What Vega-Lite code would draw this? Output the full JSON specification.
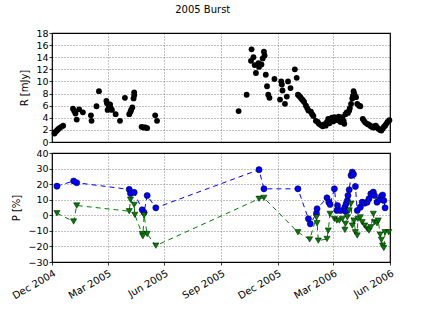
{
  "$schema": "https://vega.github.io/schema/vega-lite/v6.json",
  "padding": {"left": 9, "top": 5, "right": 5, "bottom": 5},
  "bounds": "flush",
  "title": {"text": "2005 Burst", "fontSize": 10, "font": "DejaVu Sans", "fontWeight": "normal", "offset": 12, "anchor": "middle"},
  "config": {
    "font": "DejaVu Sans",
    "view": {"stroke": "#000000", "strokeWidth": 1.2},
    "axis": {
      "domain": false, "ticks": true, "tickSize": 3, "tickColor": "#000", "tickWidth": 0.8, "labelFontSize": 9.5, "labelColor": "#000", "labelPadding": 1,
      "titleFontSize": 10, "titleFontWeight": "normal", "titleColor": "#000",
      "gridColor": "#000", "gridDash": [1, 2], "gridWidth": 0.6, "gridOpacity": 0.8
    }
  },
  "spacing": 11,
  "datasets": {
    "R": [
      {"t":"2004-12-05","r":1.4},{"t":"2004-12-07","r":1.7},{"t":"2004-12-09","r":1.9},{"t":"2004-12-11","r":2.1},{"t":"2004-12-13","r":2.3},{"t":"2004-12-16","r":2.5},{"t":"2004-12-19","r":2.7},
      {"t":"2005-01-04","r":5.5},{"t":"2005-01-06","r":5.1},{"t":"2005-01-08","r":4.7},{"t":"2005-01-10","r":3.7},{"t":"2005-01-14","r":5.4},{"t":"2005-01-20","r":4.9},
      {"t":"2005-02-02","r":4.4},{"t":"2005-02-03","r":3.5},{"t":"2005-02-11","r":5.9},{"t":"2005-02-15","r":8.4},{"t":"2005-02-27","r":6.8},{"t":"2005-02-28","r":6.4},
      {"t":"2005-03-01","r":5.3},{"t":"2005-03-03","r":5.9},{"t":"2005-03-05","r":6.2},{"t":"2005-03-06","r":5.6},{"t":"2005-03-08","r":5.3},{"t":"2005-03-14","r":4.6},{"t":"2005-03-21","r":3.5},{"t":"2005-03-29","r":7.3},
      {"t":"2005-04-05","r":4.6},{"t":"2005-04-07","r":5.0},{"t":"2005-04-08","r":5.3},{"t":"2005-04-10","r":5.7},{"t":"2005-04-12","r":7.2},{"t":"2005-04-13","r":7.7},{"t":"2005-04-13","r":8.2},
      {"t":"2005-04-25","r":2.5},{"t":"2005-04-28","r":2.4},{"t":"2005-05-01","r":2.4},{"t":"2005-05-04","r":2.3},{"t":"2005-05-17","r":4.4},{"t":"2005-05-20","r":3.5},
      {"t":"2005-09-29","r":5.1},{"t":"2005-10-12","r":7.8},{"t":"2005-10-19","r":13.4},{"t":"2005-10-20","r":15.3},{"t":"2005-10-23","r":14.0},{"t":"2005-10-25","r":12.7},{"t":"2005-10-27","r":11.4},{"t":"2005-10-31","r":13.0},
      {"t":"2005-11-01","r":12.4},{"t":"2005-11-05","r":12.8},{"t":"2005-11-07","r":13.8},{"t":"2005-11-09","r":14.9},{"t":"2005-11-10","r":14.3},{"t":"2005-11-12","r":11.1},{"t":"2005-11-14","r":9.2},{"t":"2005-11-16","r":7.8},{"t":"2005-11-18","r":7.3},{"t":"2005-11-26","r":10.4},
      {"t":"2005-12-05","r":7.0},{"t":"2005-12-07","r":10.0},{"t":"2005-12-08","r":9.5},{"t":"2005-12-09","r":8.5},{"t":"2005-12-13","r":6.3},{"t":"2005-12-16","r":7.5},{"t":"2005-12-18","r":10.0},{"t":"2005-12-22","r":8.9},{"t":"2005-12-29","r":12.0},
      {"t":"2006-01-01","r":10.6},{"t":"2006-01-03","r":7.8},{"t":"2006-01-05","r":7.6},{"t":"2006-01-07","r":7.4},{"t":"2006-01-09","r":7.1},{"t":"2006-01-11","r":6.9},{"t":"2006-01-13","r":6.6},{"t":"2006-01-16","r":6.0},{"t":"2006-01-18","r":5.6},{"t":"2006-01-20","r":5.2},{"t":"2006-01-24","r":5.0},{"t":"2006-01-26","r":4.6},{"t":"2006-01-28","r":4.3},
      {"t":"2006-02-01","r":3.5},{"t":"2006-02-04","r":3.3},{"t":"2006-02-06","r":3.0},{"t":"2006-02-09","r":2.8},{"t":"2006-02-12","r":2.6},{"t":"2006-02-14","r":2.9},{"t":"2006-02-17","r":2.7},{"t":"2006-02-19","r":3.3},{"t":"2006-02-21","r":3.8},{"t":"2006-02-23","r":3.1},{"t":"2006-02-25","r":3.5},{"t":"2006-02-27","r":4.0},
      {"t":"2006-03-01","r":3.4},{"t":"2006-03-03","r":4.1},{"t":"2006-03-05","r":3.6},{"t":"2006-03-08","r":3.8},{"t":"2006-03-10","r":4.2},{"t":"2006-03-11","r":3.5},{"t":"2006-03-13","r":3.3},{"t":"2006-03-14","r":3.9},{"t":"2006-03-16","r":4.1},{"t":"2006-03-18","r":3.5},{"t":"2006-03-19","r":3.0},{"t":"2006-03-21","r":4.6},{"t":"2006-03-23","r":4.9},{"t":"2006-03-25","r":4.8},{"t":"2006-03-27","r":5.2},{"t":"2006-03-28","r":5.6},{"t":"2006-03-30","r":6.3},
      {"t":"2006-04-01","r":7.2},{"t":"2006-04-02","r":7.6},{"t":"2006-04-03","r":8.4},{"t":"2006-04-04","r":8.0},{"t":"2006-04-05","r":7.7},{"t":"2006-04-07","r":7.4},{"t":"2006-04-09","r":6.3},{"t":"2006-04-12","r":6.0},{"t":"2006-04-14","r":5.9},{"t":"2006-04-18","r":3.8},{"t":"2006-04-20","r":3.5},{"t":"2006-04-22","r":3.2},{"t":"2006-04-25","r":3.0},{"t":"2006-04-27","r":2.9},{"t":"2006-04-29","r":2.8},
      {"t":"2006-05-01","r":2.6},{"t":"2006-05-03","r":2.5},{"t":"2006-05-05","r":2.4},{"t":"2006-05-07","r":2.6},{"t":"2006-05-09","r":2.7},{"t":"2006-05-11","r":2.4},{"t":"2006-05-13","r":2.2},{"t":"2006-05-16","r":2.0},{"t":"2006-05-18","r":1.9},{"t":"2006-05-20","r":2.2},{"t":"2006-05-22","r":2.5},{"t":"2006-05-24","r":2.7},{"t":"2006-05-26","r":3.0},{"t":"2006-05-28","r":3.3},{"t":"2006-05-31","r":3.6}
    ],
    "P": [
      {"t":"2004-12-09","s":"a","p":18.7},{"t":"2005-01-05","s":"a","p":22.0},{"t":"2005-01-10","s":"a","p":20.9},{"t":"2005-04-05","s":"a","p":16.6},{"t":"2005-04-07","s":"a","p":14.0},{"t":"2005-04-13","s":"a","p":14.7},{"t":"2005-04-26","s":"a","p":3.5},{"t":"2005-04-29","s":"a","p":1.8},{"t":"2005-05-04","s":"a","p":12.7},{"t":"2005-05-18","s":"a","p":4.8},
      {"t":"2005-11-01","s":"a","p":29.3},{"t":"2005-11-09","s":"a","p":17.0},{"t":"2006-01-03","s":"a","p":17.0},{"t":"2006-01-20","s":"a","p":-2.3},{"t":"2006-01-23","s":"a","p":-5.5},{"t":"2006-02-02","s":"a","p":1.3},{"t":"2006-02-03","s":"a","p":4.2},{"t":"2006-02-19","s":"a","p":11.2},{"t":"2006-02-22","s":"a","p":8.4},{"t":"2006-02-24","s":"a","p":7.0},
      {"t":"2006-03-03","s":"a","p":17.0},{"t":"2006-03-07","s":"a","p":3.1},{"t":"2006-03-08","s":"a","p":6.3},{"t":"2006-03-13","s":"a","p":3.1},{"t":"2006-03-20","s":"a","p":5.2},{"t":"2006-03-21","s":"a","p":2.6},{"t":"2006-03-22","s":"a","p":7.4},{"t":"2006-03-24","s":"a","p":9.5},{"t":"2006-03-25","s":"a","p":12.7},{"t":"2006-03-27","s":"a","p":16.4},{"t":"2006-03-30","s":"a","p":25.6},
      {"t":"2006-04-01","s":"a","p":27.7},{"t":"2006-04-03","s":"a","p":26.3},{"t":"2006-04-06","s":"a","p":18.5},{"t":"2006-04-09","s":"a","p":3.1},{"t":"2006-04-14","s":"a","p":5.2},{"t":"2006-04-17","s":"a","p":8.4},{"t":"2006-04-21","s":"a","p":7.8},{"t":"2006-04-25","s":"a","p":8.4},{"t":"2006-04-28","s":"a","p":10.6},
      {"t":"2006-05-01","s":"a","p":13.8},{"t":"2006-05-05","s":"a","p":14.9},{"t":"2006-05-07","s":"a","p":12.7},{"t":"2006-05-11","s":"a","p":8.4},{"t":"2006-05-15","s":"a","p":10.0},{"t":"2006-05-18","s":"a","p":12.1},{"t":"2006-05-20","s":"a","p":13.0},{"t":"2006-05-22","s":"a","p":9.5},{"t":"2006-05-24","s":"a","p":4.8},
      {"t":"2004-12-09","s":"b","p":1.3},{"t":"2005-01-05","s":"b","p":-4.0},{"t":"2005-01-10","s":"b","p":6.3},{"t":"2005-04-05","s":"b","p":2.6},{"t":"2005-04-07","s":"b","p":10.0},{"t":"2005-04-13","s":"b","p":6.7},{"t":"2005-04-14","s":"b","p":0.3},{"t":"2005-04-26","s":"b","p":-12.0},{"t":"2005-04-27","s":"b","p":-13.5},{"t":"2005-04-29","s":"b","p":0.0},{"t":"2005-05-04","s":"b","p":-12.0},{"t":"2005-05-18","s":"b","p":-19.5},
      {"t":"2005-11-01","s":"b","p":10.6},{"t":"2005-11-09","s":"b","p":11.2},{"t":"2006-01-03","s":"b","p":-10.9},{"t":"2006-01-22","s":"b","p":-15.5},{"t":"2006-02-02","s":"b","p":-1.3},{"t":"2006-02-03","s":"b","p":-5.1},{"t":"2006-02-05","s":"b","p":-16.3},{"t":"2006-02-19","s":"b","p":-15.2},{"t":"2006-02-21","s":"b","p":-9.8},{"t":"2006-02-24","s":"b","p":0.9},
      {"t":"2006-03-03","s":"b","p":-2.3},{"t":"2006-03-07","s":"b","p":-3.4},{"t":"2006-03-11","s":"b","p":-3.4},{"t":"2006-03-16","s":"b","p":-2.3},{"t":"2006-03-20","s":"b","p":-9.4},{"t":"2006-03-21","s":"b","p":-5.5},{"t":"2006-03-24","s":"b","p":-1.3},{"t":"2006-03-27","s":"b","p":3.1},{"t":"2006-03-30","s":"b","p":7.4},
      {"t":"2006-04-01","s":"b","p":-6.6},{"t":"2006-04-04","s":"b","p":-3.4},{"t":"2006-04-06","s":"b","p":-10.9},{"t":"2006-04-09","s":"b","p":-13.0},{"t":"2006-04-10","s":"b","p":-2.3},{"t":"2006-04-14","s":"b","p":-1.3},{"t":"2006-04-17","s":"b","p":-4.5},{"t":"2006-04-21","s":"b","p":-6.6},{"t":"2006-04-25","s":"b","p":-8.7},{"t":"2006-04-28","s":"b","p":-9.8},
      {"t":"2006-05-01","s":"b","p":-7.7},{"t":"2006-05-05","s":"b","p":0.9},{"t":"2006-05-07","s":"b","p":-4.5},{"t":"2006-05-11","s":"b","p":-5.1},{"t":"2006-05-13","s":"b","p":-3.4},{"t":"2006-05-16","s":"b","p":-12.4},{"t":"2006-05-18","s":"b","p":-15.8},{"t":"2006-05-20","s":"b","p":-19.5},{"t":"2006-05-22","s":"b","p":-21.0},{"t":"2006-05-24","s":"b","p":-10.9},{"t":"2006-05-30","s":"b","p":-10.9}
    ]
  },
  "vconcat": [
    {
      "width": 338, "height": 109,
      "data": {"name": "R"},
      "mark": {"type": "point", "filled": true, "shape": "circle", "size": 34, "color": "#000000", "opacity": 1},
      "encoding": {
        "x": {"field": "t", "type": "temporal",
          "scale": {"type": "utc", "domain": [{"year": 2004, "month": 12, "date": 1, "utc": true}, {"year": 2006, "month": 6, "date": 1, "utc": true}]},
          "axis": {"title": null, "labels": false, "ticks": false, "orient": "top",
            "values": [{"year": 2004, "month": 12, "date": 1, "utc": true}, {"year": 2005, "month": 3, "date": 1, "utc": true}, {"year": 2005, "month": 6, "date": 1, "utc": true}, {"year": 2005, "month": 9, "date": 1, "utc": true}, {"year": 2005, "month": 12, "date": 1, "utc": true}, {"year": 2006, "month": 3, "date": 1, "utc": true}, {"year": 2006, "month": 6, "date": 1, "utc": true}]}},
        "y": {"field": "r", "type": "quantitative", "scale": {"domain": [0, 18], "nice": false},
          "axis": {"title": "R [mJy]", "values": [0, 2, 4, 6, 8, 10, 12, 14, 16, 18], "titlePadding": 6}}
      }
    },
    {
      "width": 338, "height": 109,
      "data": {"name": "P"},
      "encoding": {
        "x": {"field": "t", "type": "temporal",
          "scale": {"type": "utc", "domain": [{"year": 2004, "month": 12, "date": 1, "utc": true}, {"year": 2006, "month": 6, "date": 1, "utc": true}]},
          "axis": {"title": null, "format": "%b %Y", "labelAngle": -30, "labelAlign": "right", "labelBaseline": "top", "labelFontSize": 10, "labelPadding": 3,
            "values": [{"year": 2004, "month": 12, "date": 1, "utc": true}, {"year": 2005, "month": 3, "date": 1, "utc": true}, {"year": 2005, "month": 6, "date": 1, "utc": true}, {"year": 2005, "month": 9, "date": 1, "utc": true}, {"year": 2005, "month": 12, "date": 1, "utc": true}, {"year": 2006, "month": 3, "date": 1, "utc": true}, {"year": 2006, "month": 6, "date": 1, "utc": true}]}},
        "y": {"field": "p", "type": "quantitative", "scale": {"domain": [-30, 40], "nice": false},
          "axis": {"title": "P [%]", "values": [-30, -20, -10, 0, 10, 20, 30, 40], "titlePadding": 6}},
        "color": {"field": "s", "type": "nominal", "legend": null, "scale": {"domain": ["a", "b"], "range": ["#0000ff", "#008000"]}}
      },
      "layer": [
        {"mark": {"type": "line", "strokeDash": [5, 4], "strokeWidth": 1}},
        {"mark": {"type": "point", "filled": true, "size": 38, "stroke": "#000000", "strokeWidth": 0.5, "opacity": 1},
          "encoding": {"shape": {"field": "s", "type": "nominal", "legend": null, "scale": {"domain": ["a", "b"], "range": ["circle", "triangle-down"]}},
            "fill": {"field": "s", "type": "nominal", "legend": null, "scale": {"domain": ["a", "b"], "range": ["#0000ff", "#008000"]}}}}
      ]
    }
  ]
}
